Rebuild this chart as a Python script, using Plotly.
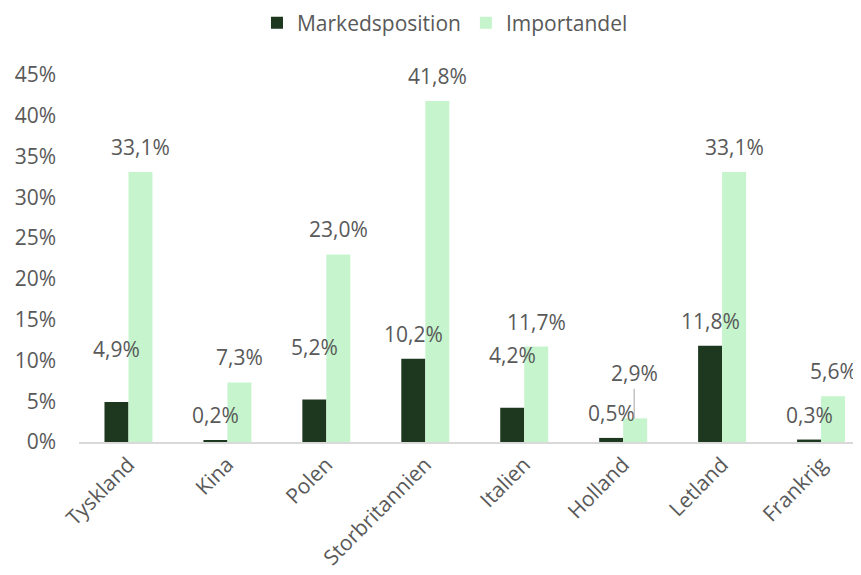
import plotly.graph_objects as go

categories = ["Tyskland", "Kina", "Polen", "Storbritannien", "Italien", "Holland", "Letland", "Frankrig"]
markedsposition = [4.9, 0.2, 5.2, 10.2, 4.2, 0.5, 11.8, 0.3]
importandel = [33.1, 7.3, 23.0, 41.8, 11.7, 2.9, 33.1, 5.6]
y_ticks = [0, 5, 10, 15, 20, 25, 30, 35, 40, 45]
y_tick_labels = [f"{v}%" for v in y_ticks]

DARK = "#1e381f"
LIGHT = "#c6f5cd"
TXT = "#595959"
FONT = "Open Sans"
FS = 21

def fmt(v):
    return f"{v:.1f}".replace(".", ",") + "%"

fig = go.Figure()
fig.add_trace(go.Bar(name="Markedsposition", x=categories, y=markedsposition,
                     marker=dict(color=DARK, line=dict(width=0))))
fig.add_trace(go.Bar(name="Importandel", x=categories, y=importandel,
                     marker=dict(color=LIGHT, line=dict(width=0))))

# label layout (style): extra lift for some dark labels, leader line for one light label
dark_extra = [28, 0, 28, 0, 28, 0, 0, 0]
light_leader = [False, False, False, False, False, True, False, False]

annotations = []
for i, c in enumerate(categories):
    annotations.append(dict(x=c, y=markedsposition[i], xref="x", yref="y", text=fmt(markedsposition[i]),
                            showarrow=False, xshift=-12, yshift=25 + dark_extra[i], yanchor="middle",
                            font=dict(family=FONT, size=FS, color=TXT)))
    if light_leader[i]:
        annotations.append(dict(x=c, y=importandel[i], xref="x", yref="y", text=fmt(importandel[i]),
                                showarrow=True, arrowhead=0, arrowwidth=1, arrowcolor="#a6a6a6",
                                ax=0, ay=-45, xshift=11, standoff=0,
                                font=dict(family=FONT, size=FS, color=TXT)))
    else:
        annotations.append(dict(x=c, y=importandel[i], xref="x", yref="y", text=fmt(importandel[i]),
                                showarrow=False, xshift=12, yshift=25, yanchor="middle",
                                font=dict(family=FONT, size=FS, color=TXT)))

fig.update_layout(
    width=861, height=575,
    margin=dict(l=71, r=8, t=67, b=141, autoexpand=False),
    paper_bgcolor="white", plot_bgcolor="white",
    barmode="group", bargap=0.515, bargroupgap=0,
    font=dict(family=FONT, size=FS, color=TXT),
    legend=dict(orientation="h", x=0.2276, xanchor="left", xref="paper",
                y=1.1417, yanchor="middle", yref="paper",
                font=dict(family=FONT, size=FS, color=TXT),
                itemwidth=30, tracegroupgap=0),
    annotations=annotations,
    showlegend=True,
)
fig.update_xaxes(range=[-0.5, 7.404], tickangle=-45, showgrid=False, showline=True, automargin=False,
                 linecolor="#d9d9d9", linewidth=2, ticks="", tickfont=dict(family=FONT, size=FS, color=TXT))
fig.update_yaxes(range=[0, 45], tickvals=y_ticks, ticktext=y_tick_labels, showgrid=False, automargin=False,
                 zeroline=False, showline=False, ticks="", ticklabelstandoff=22,
                 tickfont=dict(family=FONT, size=FS, color=TXT))

fig.write_html("out.html")
